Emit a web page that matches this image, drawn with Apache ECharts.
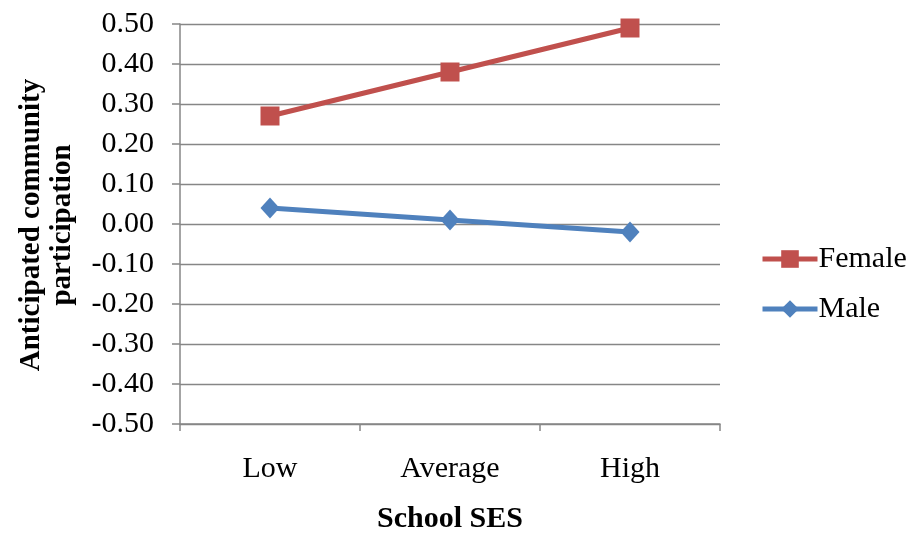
<!DOCTYPE html>
<html>
<head>
<meta charset="utf-8">
<script src="https://cdn.jsdelivr.net/npm/echarts@6/dist/echarts.min.js"></script>
<style>html,body{margin:0;padding:0;background:#fff;}#c{width:912px;height:534px;}</style>
</head>
<body>
<div id="c"></div>
<script>
var categories = ['Low', 'Average', 'High'];
var femaleValues = [0.27, 0.38, 0.49];
var maleValues = [0.04, 0.01, -0.02];
var seriesNames = ['Female', 'Male'];
var yTitle = 'Anticipated community\nparticipation';
var xTitle = 'School SES';

var FONT = '"Liberation Serif", "Times New Roman", serif';
var FS = 30;
var chart = echarts.init(document.getElementById('c'));
chart.setOption({
  animation: false,
  backgroundColor: '#fff',
  grid: { left: 180, right: 192, top: 24, bottom: 110, containLabel: false, outerBoundsMode: 'none' },
  legend: {
    orient: 'vertical', left: 760, top: 244, itemGap: 20, padding: 0,
    itemWidth: 55, itemHeight: 22,
    lineStyle: { width: 5 },
    textStyle: { fontFamily: FONT, fontSize: FS, color: '#000', padding: [0,0,0,-4] },
    data: seriesNames
  },
  graphic: [{
    type: 'text', x: 47, y: 225, rotation: Math.PI / 2,
    style: { text: yTitle, font: 'bold 29px ' + FONT, fill: '#000',
      align: 'center', verticalAlign: 'middle', lineHeight: 31 }
  }],
  xAxis: {
    type: 'category', data: categories, boundaryGap: true,
    name: xTitle, nameLocation: 'middle', nameGap: 80,
    nameTextStyle: { fontFamily: FONT, fontSize: FS, fontWeight: 'bold', color: '#000' },
    axisLine: { onZero: false, lineStyle: { color: '#868686', width: 1.5 } },
    axisTick: { show: true, length: 7, interval: 0, lineStyle: { color: '#868686', width: 1.5 } },
    axisLabel: { fontFamily: FONT, fontSize: FS, color: '#000', margin: 30 },
    splitLine: { show: false }
  },
  yAxis: {
    type: 'value', min: -0.5, max: 0.5, interval: 0.1,
    axisLine: { show: true, lineStyle: { color: '#868686', width: 1.5 } },
    axisTick: { show: true, length: 8, lineStyle: { color: '#868686', width: 1.5 } },
    axisLabel: { fontFamily: FONT, fontSize: FS, color: '#000', margin: 26,
      formatter: function (v) { return v.toFixed(2); } },
    splitLine: { lineStyle: { color: '#868686', width: 1.3 } }
  },
  series: [
    { name: seriesNames[0], type: 'line', data: femaleValues, symbol: 'rect', symbolSize: 19,
      lineStyle: { color: '#C0504D', width: 5 }, itemStyle: { color: '#C0504D' } },
    { name: seriesNames[1], type: 'line', data: maleValues, symbol: 'diamond', symbolSize: [19, 21],
      lineStyle: { color: '#4F81BD', width: 5 }, itemStyle: { color: '#4F81BD' } }
  ]
});
</script>
</body>
</html>
